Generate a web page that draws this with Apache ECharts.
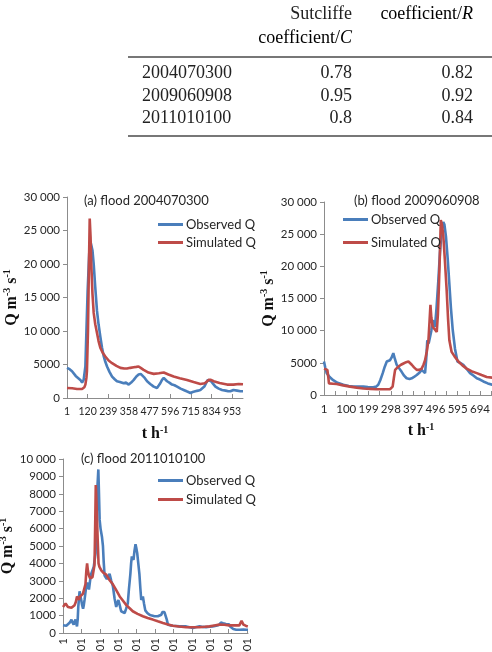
<!DOCTYPE html>
<html>
<head>
<meta charset="utf-8">
<script src="https://cdn.jsdelivr.net/npm/echarts@6/dist/echarts.min.js"></script>
<style>html,body{margin:0;padding:0;background:#fff;}#c{width:492px;height:652px;}</style>
</head>
<body>
<div id="c"></div>
<script>
// ---- table data ----
const floodIds = ['2004070300', '2009060908', '2011010100'];
const nashC = ['0.78', '0.95', '0.8'];
const corrR = ['0.82', '0.92', '0.84'];

// ---- chart titles / legend ----
const panelTitles = ['(a) flood 2004070300', '(b) flood 2009060908', '(c) flood 2011010100'];
const seriesNames = ['Observed Q', 'Simulated Q'];

// ---- (a) flood 2004070300 : [hour index, Q] ----
const obsA = [[0,4500],[15,4300],[29,4000],[50,3300],[77,2700],[87,2300],[96,2700],[106,4700],[112,10000],[119,16000],[128,21500],[135,23400],[140,23600],[147,22000],[154,20000],[163,16500],[173,13000],[182,11000],[192,9200],[202,7500],[212,6200],[221,5400],[231,4700],[245,3900],[260,3200],[275,2800],[288,2500],[305,2400],[327,2200],[340,2300],[356,2000],[370,2300],[385,2700],[400,3200],[413,3500],[425,3600],[433,3500],[448,3000],[462,2500],[480,2100],[500,1700],[510,1600],[519,1500],[530,1900],[538,2200],[548,2700],[558,3000],[567,2800],[577,2500],[590,2300],[606,2000],[620,1900],[635,1700],[655,1400],[673,1200],[690,1000],[712,750],[725,900],[740,1000],[755,1100],[769,1200],[780,1400],[792,1700],[802,2200],[812,2700],[822,2700],[831,2500],[843,2100],[856,1700],[875,1400],[894,1200],[915,1100],[930,1000],[942,1000],[960,1200],[981,1100],[1000,1000],[1015,1000]];
const simA = [[0,1500],[30,1450],[58,1350],[87,1350],[100,1600],[106,2000],[112,3000],[115,4000],[118,7000],[121,10000],[126,19000],[131,26800],[136,24000],[140,20000],[147,15500],[154,12700],[163,11000],[173,9700],[182,8500],[192,7500],[205,6800],[221,6200],[240,5600],[260,5200],[285,4800],[308,4500],[330,4400],[346,4400],[365,4500],[385,4600],[400,4650],[413,4700],[425,4500],[442,4200],[470,3800],[500,3600],[530,3700],[558,3800],[585,3500],[615,3200],[650,2950],[692,2700],[730,2400],[769,2100],[795,2200],[817,2700],[830,2700],[846,2500],[880,2250],[923,2000],[960,2000],[990,2100],[1015,2050]];

// ---- (b) flood 2009060908 ----
const obsB = [[0,5200],[6,4200],[12,3400],[25,2800],[41,2300],[60,1900],[86,1600],[110,1400],[130,1300],[155,1300],[175,1300],[195,1250],[219,1200],[232,1300],[241,1600],[250,2300],[261,3400],[270,4400],[279,5200],[293,5400],[300,5800],[308,6500],[315,5600],[323,4700],[335,4100],[345,3600],[356,3000],[367,2600],[380,2500],[390,2600],[400,2800],[412,3100],[425,3500],[434,3900],[442,3700],[449,3400],[454,5500],[459,8500],[465,8000],[471,8300],[477,10000],[483,11600],[488,11200],[493,10600],[500,13500],[508,17800],[515,22000],[523,25600],[530,26900],[535,26500],[542,24600],[550,21000],[556,17800],[564,13500],[572,10100],[582,7200],[593,5200],[605,5000],[619,4700],[635,4000],[649,3400],[665,3000],[679,2600],[693,2400],[708,2100],[728,1800],[747,1600],[770,1400],[800,1300],[862,1200]];
const simB = [[0,4100],[8,4000],[15,3900],[19,2800],[22,1800],[40,1750],[56,1700],[85,1500],[116,1300],[145,1150],[175,1000],[205,950],[234,900],[265,900],[293,900],[300,1000],[305,1300],[311,2800],[316,3900],[323,4200],[330,4400],[342,4700],[353,4900],[365,5100],[375,5200],[382,5000],[390,4700],[400,4300],[412,3900],[423,3900],[434,4100],[442,4700],[449,5400],[457,6800],[464,8500],[469,11500],[473,14000],[477,12000],[483,10600],[490,10300],[501,9800],[506,12500],[510,16300],[515,22000],[519,27200],[524,26500],[530,24800],[537,21000],[545,16300],[551,12000],[557,8500],[567,6700],[580,6000],[597,5200],[615,4600],[634,4100],[655,3700],[679,3400],[700,3100],[723,2800],[747,2700],[790,2500],[862,2300]];

// ---- (c) flood 2011010100 ----
const obsC = [[0,450],[9,380],[18,420],[27,480],[37,600],[46,770],[52,600],[58,480],[63,650],[68,770],[72,550],[76,380],[80,800],[83,1500],[87,2000],[90,2400],[95,2100],[99,1900],[104,1600],[109,1400],[113,1600],[117,1900],[124,2500],[131,2900],[136,2700],[141,2500],[147,3000],[153,3400],[160,3600],[167,3800],[172,4200],[177,4600],[180,5800],[184,7300],[188,8600],[192,9400],[195,8200],[199,6500],[204,6000],[208,5900],[212,5500],[217,5000],[221,4100],[226,3300],[232,3200],[238,3100],[245,3200],[253,3400],[262,3000],[271,2700],[280,2000],[289,1500],[295,1700],[301,1900],[308,1600],[316,1250],[326,1150],[335,1150],[343,1400],[352,1700],[358,2500],[366,3400],[370,4000],[374,4400],[378,4300],[383,4200],[388,4700],[394,5100],[398,4900],[403,4600],[409,4000],[415,3400],[420,2600],[425,1900],[430,2000],[434,2100],[440,1700],[447,1300],[458,1150],[470,1050],[483,1000],[497,960],[506,950],[515,960],[525,1050],[534,1050],[540,1200],[546,1250],[551,1200],[556,1150],[563,800],[570,480],[583,440],[597,420],[615,400],[633,380],[650,390],[669,380],[688,330],[706,290],[724,340],[742,380],[760,350],[777,340],[795,360],[813,380],[832,420],[850,480],[857,600],[864,670],[870,560],[876,480],[885,520],[895,610],[902,500],[908,370],[913,290],[925,230],[941,190],[960,190],[980,200],[995,190],[1005,190]];
const simC = [[0,1500],[5,1400],[9,1450],[14,1700],[18,1800],[22,1650],[27,1500],[36,1450],[46,1450],[55,1500],[63,1600],[70,1800],[76,2100],[82,2000],[87,1900],[93,2100],[99,2200],[108,2250],[117,2300],[122,2800],[127,3600],[131,4000],[135,3600],[141,3300],[147,3150],[153,3100],[160,3200],[168,3300],[171,3900],[173,5000],[176,7000],[178,8500],[181,7800],[185,6500],[189,5200],[193,4000],[198,3800],[208,3600],[220,3450],[235,3350],[252,3050],[271,2800],[290,2450],[308,2100],[326,1850],[344,1600],[362,1420],[379,1250],[405,1100],[434,960],[460,860],[488,770],[515,670],[543,570],[570,490],[597,420],[630,370],[669,330],[705,330],[742,340],[770,360],[796,380],[822,430],[850,480],[876,470],[903,440],[930,440],[958,440],[966,500],[970,700],[973,770],[977,600],[980,480],[992,420],[1004,380]];

// ---- axis tick settings ----
const yTicksAB = {min: 0, max: 30000, interval: 5000};
const yTicksC = {min: 0, max: 10000, interval: 1000};
const xStep = [119, 99, 100];
const xMax = [1015, 862, 1005];

const SANS = 'Lato, Carlito, "Open Sans", sans-serif';
const SERIF = '"Liberation Serif", "Times New Roman", serif';
const BLUE = '#4A7EBB';
const RED = '#BE4B48';
const AXIS = '#8c8c8c';
const TXT = '#262626';

function yFmt(v) {
  if (v >= 10000) { const s = String(v); return s.slice(0, s.length - 3) + ' ' + s.slice(-3); }
  return String(v);
}
const axisNameRich = {
  b: {fontFamily: SERIF, fontWeight: 'bold', fontSize: 16, color: '#111', lineHeight: 18},
  s: {fontFamily: SERIF, fontWeight: 'bold', fontSize: 10, color: '#111', verticalAlign: 'top', lineHeight: 18}
};

const grids = [
  {left: 67, top: 197, width: 176, height: 201, containLabel: false, outerBoundsMode: 'none'},
  {left: 324, top: 202, width: 194, height: 193, containLabel: false, outerBoundsMode: 'none'},
  {left: 63, top: 459, width: 185, height: 174, containLabel: false, outerBoundsMode: 'none'}
];
const xLabelSize = [10.5, 11.5, 11.5];

function xAxis(i) {
  const step = xStep[i];
  const ax = {
    type: 'value', gridIndex: i, min: 0, max: xMax[i], interval: step,
    axisLine: {show: true, lineStyle: {color: AXIS, width: 1}},
    axisTick: {show: true, inside: true, length: 4, lineStyle: {color: AXIS}},
    splitLine: {show: false},
    axisLabel: {
      show: true, margin: 8, fontFamily: SANS, fontSize: xLabelSize[i], color: TXT,
      showMaxLabel: false, showMinLabel: true, hideOverlap: false,
      formatter: function (v) { return (v % step === 0) ? String(v + 1) : ''; }
    }
  };
  if (i === 2) {
    ax.axisLabel.rotate = 90;
    ax.axisLabel.margin = 5;
  } else {
    ax.name = '{b|t h}{s|-1}';
    ax.nameLocation = 'middle';
    ax.nameGap = 27;
    ax.nameTextStyle = {rich: axisNameRich};
  }
  if (i === 1) {
    ax.minorTick = {show: true, splitNumber: 2, length: 4, lineStyle: {color: AXIS}};
  }
  return ax;
}
function yAxis(i, t, gap) {
  return {
    type: 'value', gridIndex: i, min: t.min, max: t.max, interval: t.interval,
    axisLine: {show: true, lineStyle: {color: AXIS, width: 1}},
    axisTick: {show: true, inside: false, length: 4, lineStyle: {color: AXIS}},
    splitLine: {show: false},
    axisLabel: {margin: 7, fontFamily: SANS, fontSize: 11.5, color: TXT, formatter: yFmt},
    name: '{b|Q m}{s|-3}{b| s}{s|-1}', nameLocation: 'middle', nameGap: gap,
    nameTextStyle: {rich: axisNameRich}
  };
}
function line(name, data, i, color) {
  return {
    type: 'line', name: name, xAxisIndex: i, yAxisIndex: i, data: data,
    showSymbol: false, symbol: 'none', smooth: false, animation: false,
    lineStyle: {color: color, width: 2.6}, itemStyle: {color: color}, z: name === seriesNames[1] ? 3 : 2
  };
}
function legend(left, top, gap) {
  return {
    data: seriesNames, orient: 'vertical', left: left, top: top, itemGap: gap,
    icon: 'rect', itemWidth: 25, itemHeight: 3, selectedMode: false,
    textStyle: {fontFamily: SANS, fontSize: 13, color: TXT, padding: [0, 0, 0, -2]}
  };
}

// ---- table graphics ----
const tableFont = {fontFamily: SERIF, fontSize: 18, fill: '#222'};
const rich = {
  n: {fontFamily: SERIF, fontSize: 18, color: '#222'},
  i: {fontFamily: SERIF, fontSize: 18, fontStyle: 'italic', color: '#222'}
};
const graphics = [
  {type: 'text', right: 140, top: 5, style: Object.assign({text: 'Sutcliffe', textAlign: 'right'}, tableFont)},
  {type: 'text', right: 140, top: 29, style: {text: '{n|coefficient/}{i|C}', rich: rich, textAlign: 'right'}},
  {type: 'text', right: 19, top: 5, style: {text: '{n|coefficient/}{i|R}', rich: rich, textAlign: 'right'}},
  {type: 'line', shape: {x1: 128, y1: 57, x2: 492, y2: 57}, style: {stroke: '#777', lineWidth: 1.8}},
  {type: 'line', shape: {x1: 128, y1: 136, x2: 492, y2: 136}, style: {stroke: '#777', lineWidth: 1.8}}
];
const rowY = [73, 96, 118];
floodIds.forEach(function (id, k) {
  graphics.push({type: 'text', x: 142, y: rowY[k], style: Object.assign({text: id, textAlign: 'left', textVerticalAlign: 'middle'}, tableFont)});
  graphics.push({type: 'text', x: 352, y: rowY[k], style: Object.assign({text: nashC[k], textAlign: 'right', textVerticalAlign: 'middle'}, tableFont)});
  graphics.push({type: 'text', x: 473, y: rowY[k], style: Object.assign({text: corrR[k], textAlign: 'right', textVerticalAlign: 'middle'}, tableFont)});
});

const chart = echarts.init(document.getElementById('c'), null, {renderer: 'canvas'});
chart.setOption({
  animation: false,
  backgroundColor: '#ffffff',
  title: [
    {text: panelTitles[0], left: 79, top: 189, textStyle: {fontFamily: SANS, fontSize: 13, fontWeight: 'normal', color: TXT}},
    {text: panelTitles[1], left: 349, top: 189, textStyle: {fontFamily: SANS, fontSize: 13, fontWeight: 'normal', color: TXT}},
    {text: panelTitles[2], left: 76, top: 447, textStyle: {fontFamily: SANS, fontSize: 13, fontWeight: 'normal', color: TXT}}
  ],
  legend: [legend(153, 213, 5), legend(338, 208, 10), legend(153, 469, 6)],
  grid: grids,
  xAxis: [xAxis(0), xAxis(1), xAxis(2)],
  yAxis: [yAxis(0, yTicksAB, 37), yAxis(1, yTicksAB, 40), yAxis(2, yTicksC, 33)],
  series: [
    line(seriesNames[0], obsA, 0, BLUE), line(seriesNames[1], simA, 0, RED),
    line(seriesNames[0], obsB, 1, BLUE), line(seriesNames[1], simB, 1, RED),
    line(seriesNames[0], obsC, 2, BLUE), line(seriesNames[1], simC, 2, RED)
  ],
  graphic: graphics
});
</script>
</body>
</html>
